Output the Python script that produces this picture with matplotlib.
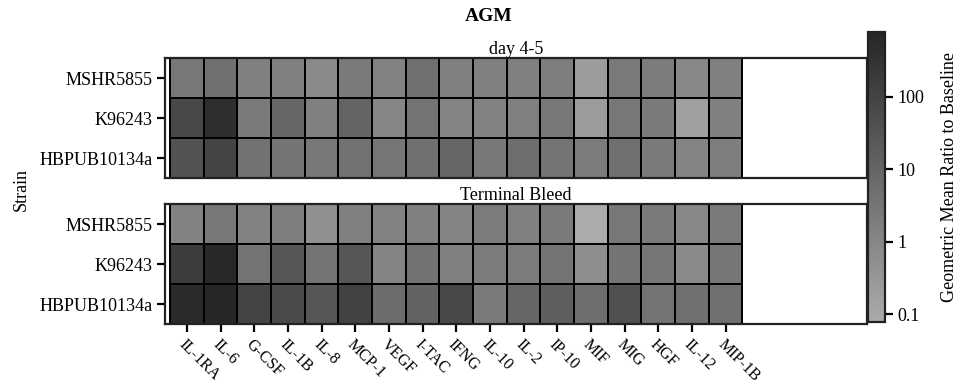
import numpy as np
import matplotlib
matplotlib.use("Agg")
import matplotlib.pyplot as plt
from matplotlib.colors import LinearSegmentedColormap, LogNorm

plt.rcParams['font.family'] = ['Liberation Serif', 'DejaVu Serif']

cytokines = ["IL-1RA", "IL-6", "G-CSF", "IL-1B", "IL-8", "MCP-1", "VEGF", "I-TAC",
             "IFNG", "IL-10", "IL-2", "IP-10", "MIF", "MIG", "HGF", "IL-12", "MIP-1B"]
strains = ["MSHR5855", "K96243", "HBPUB10134a"]

# geometric mean ratio to baseline, one row per strain
day45_mshr = [2.6, 4.6, 1.5, 1.5, 0.76, 2.3, 1.3, 4.6, 1.5, 1.5, 1.5, 1.75, 0.22, 2.3, 2.0, 0.88, 1.5]
day45_k96 = [75, 450, 2.3, 9.2, 1.5, 10.6, 1.0, 3.5, 1.16, 1.33, 1.5, 2.65, 0.22, 2.65, 2.3, 0.17, 1.5]
day45_hbpub = [37, 98, 4.0, 3.5, 2.65, 4.0, 3.0, 4.6, 9.2, 2.65, 5.3, 3.5, 2.0, 4.6, 2.3, 1.16, 1.75]

term_mshr = [1.33, 2.65, 1.33, 1.75, 0.5, 1.5, 1.33, 1.5, 1.16, 2.0, 1.5, 2.3, 0.08, 2.65, 2.3, 0.88, 2.3]
term_k96 = [170, 680, 3.5, 28, 3.5, 28, 1.16, 4.0, 1.5, 2.0, 2.0, 3.5, 0.57, 3.5, 3.0, 0.76, 3.0]
term_hbpub = [590, 760, 98, 65, 28, 113, 6.1, 12.2, 75, 2.3, 9.2, 16, 5.3, 43, 3.5, 4.6, 4.6]

panels = [("day 4-5", [day45_mshr, day45_k96, day45_hbpub]),
          ("Terminal Bleed", [term_mshr, term_k96, term_hbpub])]

cmap = LinearSegmentedColormap.from_list("grays", ["#ababab", "#262626"])
norm = LogNorm(vmin=0.078, vmax=785)

fig = plt.figure(figsize=(9.61, 3.83), dpi=100)
ax_top = fig.add_axes([0.1717, 0.5352, 0.7305, 0.3133])
ax_bot = fig.add_axes([0.1717, 0.154, 0.7305, 0.3133])
cax = fig.add_axes([0.9032, 0.1593, 0.0177, 0.757])

nx = len(cytokines)
xe = np.arange(nx + 1) - 0.5
ye = np.arange(len(strains) + 1) - 0.5

for ax, (name, rows) in zip([ax_top, ax_bot], panels):
    data = np.array(rows)
    mesh = ax.pcolormesh(xe, ye, data, cmap=cmap, norm=norm,
                         edgecolors="black", linewidth=1.1)
    ax.set_xlim(-0.65, 20.2)
    ax.set_ylim(2.5, -0.5)
    ax.set_yticks(range(len(strains)))
    ax.set_yticklabels(strains, fontsize=13)
    ax.set_title(name, fontsize=13, pad=3)
    ax.tick_params(axis="y", length=6, width=1.6, pad=3)
    for s in ax.spines.values():
        s.set_linewidth(1.6)
        s.set_color("#222222")

ax_top.set_xticks([])
ax_bot.set_xticks(range(nx))
ax_bot.set_xticklabels(cytokines, fontsize=11.5, rotation=-45,
                       ha="left", va="top", rotation_mode="anchor")
ax_bot.tick_params(axis="x", length=6, width=1.6, pad=3)

cb = fig.colorbar(mesh, cax=cax)
cb.set_ticks([0.1, 1, 10, 100])
cb.set_ticklabels(["0.1", "1", "10", "100"])
cb.ax.tick_params(labelsize=13, length=6, width=1.6, pad=3, which="major")
cb.ax.tick_params(which="minor", length=0)
cb.outline.set_linewidth(1.6)
cb.outline.set_edgecolor("#222222")
cb.set_label("Geometric Mean Ratio to Baseline", fontsize=13, labelpad=12)

fig.text(0.022, 0.504, "Strain", rotation=90, fontsize=13, ha="center", va="center")
fig.text(0.508, 0.957, "AGM", fontsize=14, fontweight="bold", ha="center", va="center")

fig.savefig("out.png", dpi=100)
